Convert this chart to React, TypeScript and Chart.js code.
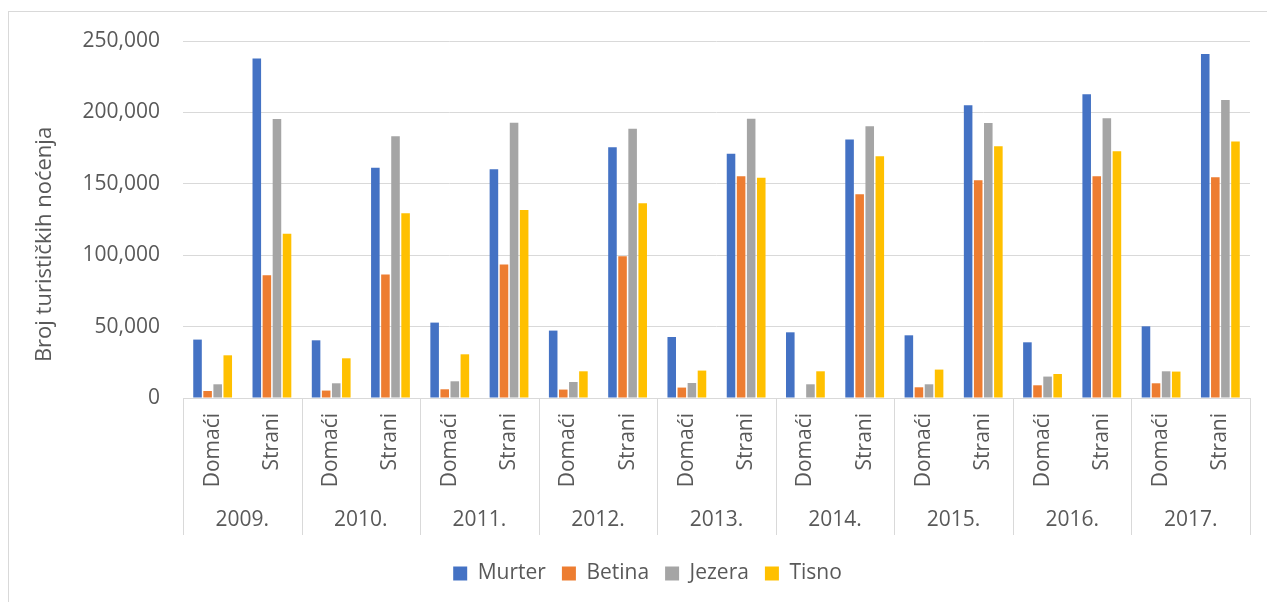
import React, { useEffect, useRef } from "react";
import { Chart, registerables } from "chart.js";

Chart.register(...registerables);

const years = ["2009.", "2010.", "2011.", "2012.", "2013.", "2014.", "2015.", "2016.", "2017."];
const types = ["Domaći", "Strani"];
const categories = years.flatMap(() => types);

const seriesNames = ["Murter", "Betina", "Jezera", "Tisno"];
const murter = [40900, 237700, 40400, 161300, 52800, 160200, 47200, 175600, 42700, 171100, 46000, 181000, 43900, 205000, 39000, 212700, 50200, 240900];
const betina = [4900, 85900, 5200, 86400, 6100, 93400, 5900, 99200, 7300, 155200, 0, 142700, 7500, 152500, 8900, 155200, 10300, 154600];
const jezera = [9600, 195400, 10300, 183300, 11700, 192800, 11200, 188600, 10500, 195600, 9600, 190300, 9600, 192600, 15000, 195900, 18700, 208700];
const tisno = [29900, 115100, 27800, 129300, 30600, 131700, 18700, 136300, 19200, 154300, 18700, 169300, 19900, 176300, 16800, 172800, 18500, 179600];
const colors = ["#4472C4", "#ED7D31", "#A5A5A5", "#FFC000"];

const yTitle = "Broj turističkih noćenja";
const yMax = 250000;
const yStep = 50000;

const FONT = "'Open Sans', sans-serif";
const FONT_SIZE = 21;
const TITLE_SIZE = 22;
const TEXT = "#595959";
const GRID = "#d9d9d9";

const groupPlugin = {
  id: "groupPlugin",
  afterDraw(chart: any) {
    const x = chart.scales.x;
    const area = chart.chartArea;
    const ctx = chart.ctx;
    const n = years.length;
    const boundary = (i: number) =>
      i === 0 ? x.left : i === n ? x.right : (x.getPixelForValue(2 * i - 1) + x.getPixelForValue(2 * i)) / 2;
    ctx.save();
    ctx.strokeStyle = GRID;
    ctx.lineWidth = 1;
    for (let i = 0; i <= n; i++) {
      const bx = Math.round(boundary(i)) + 0.5;
      ctx.beginPath();
      ctx.moveTo(bx, area.bottom);
      ctx.lineTo(bx, area.bottom + 137);
      ctx.stroke();
    }
    ctx.fillStyle = TEXT;
    ctx.font = `${FONT_SIZE}px ${FONT}`;
    ctx.textAlign = "center";
    ctx.textBaseline = "middle";
    for (let i = 0; i < n; i++) {
      const cx = (x.getPixelForValue(2 * i) + x.getPixelForValue(2 * i + 1)) / 2;
      ctx.fillText(years[i], cx, area.bottom + 122);
    }
    ctx.font = `${TITLE_SIZE}px ${FONT}`;
    ctx.translate(36, (area.top + area.bottom) / 2 + 25);
    ctx.rotate(-Math.PI / 2);
    ctx.fillText(yTitle, 0, 0);
    ctx.restore();
  },
};

export default function App() {
  const ref = useRef<HTMLCanvasElement | null>(null);
  useEffect(() => {
    document.documentElement.style.overflow = "hidden";
    document.body.style.overflow = "hidden";
    const datasets = [murter, betina, jezera, tisno].map((d, i) => ({
      label: seriesNames[i],
      data: d,
      backgroundColor: colors[i],
      borderWidth: 0,
      categoryPercentage: 0.68,
      barPercentage: 0.85,
    }));
    const chart = new Chart(ref.current as HTMLCanvasElement, {
      type: "bar",
      data: { labels: categories, datasets },
      plugins: [groupPlugin],
      options: {
        animation: false,
        responsive: true,
        maintainAspectRatio: false,
        layout: { padding: { top: 29, right: 0, left: 0, bottom: 8 } },
        font: { family: FONT, size: FONT_SIZE },
        plugins: {
          tooltip: { enabled: false },
          legend: {
            position: "bottom",
            labels: {
              boxWidth: 14,
              boxHeight: 14,
              padding: 16,
              color: TEXT,
              font: { family: FONT, size: FONT_SIZE },
            },
          },
        },
        scales: {
          x: {
            grid: { display: false, drawTicks: false },
            border: { display: true, color: GRID, width: 1 },
            ticks: {
              autoSkip: false,
              minRotation: 90,
              maxRotation: 90,
              padding: 15,
              color: TEXT,
              font: { family: FONT, size: FONT_SIZE },
            },
            afterFit: (s: any) => {
              s.height = 149;
            },
          },
          y: {
            min: 0,
            max: yMax,
            grid: { color: GRID, lineWidth: 1, drawTicks: true, tickLength: 23, tickColor: "rgba(0,0,0,0)" },
            border: { display: false },
            ticks: {
              stepSize: yStep,
              padding: 0,
              color: TEXT,
              font: { family: FONT, size: FONT_SIZE },
              callback: (v: any) => Number(v).toLocaleString("en-US"),
            },
            afterFit: (s: any) => {
              s.width = 174;
            },
          },
          yRight: {
            position: "right",
            display: true,
            grid: { display: false, drawTicks: false },
            border: { display: false },
            ticks: { display: false },
            afterFit: (s: any) => {
              s.width = 36;
            },
          },
        },
      } as any,
    });
    return () => chart.destroy();
  }, []);
  return (
    <div
      style={{
        position: "absolute",
        left: 8,
        top: 11,
        width: 1277,
        height: 590,
        borderLeft: `1px solid ${GRID}`,
        borderTop: `1px solid ${GRID}`,
      }}
    >
      <canvas ref={ref} />
    </div>
  );
}
